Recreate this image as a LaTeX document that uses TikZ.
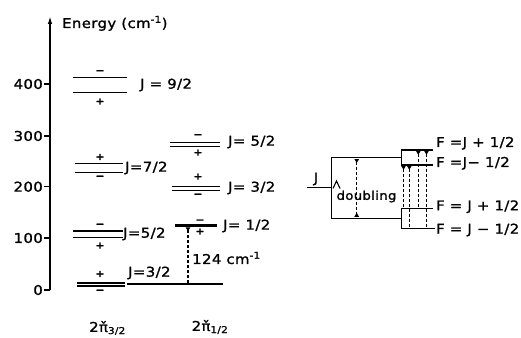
\documentclass[tikz,border=0pt]{standalone}
\usepackage{fontspec}
\setmainfont{DejaVu Sans}[FakeStretch=1.1,LetterSpace=3,FakeBold=1.3]
\usetikzlibrary{arrows.meta}
\begin{document}
\begin{tikzpicture}[x=1pt,y=-1pt,
  lvl/.style={line width=1.5pt},
  thicklvl/.style={line width=1.9pt},
  lbl/.style={font=\fontsize{13.5}{14}\selectfont, inner sep=0pt},
  small/.style={font=\fontsize{12}{12}\selectfont, inner sep=0pt},
  sgn/.style={font=\bfseries\fontsize{9.5}{9.5}\selectfont, inner sep=0pt},
  tdash/.style={line width=1.2pt, dash pattern=on 3pt off 2pt},
  tiptop/.style={{Triangle[reversed,length=4pt,width=4.5pt]}-},
  tipboth/.style={{Triangle[reversed,length=4pt,width=4.5pt]}-{Triangle[reversed,length=4pt,width=4.5pt]}},
]
\useasboundingbox (0,0) rectangle (521,337);
% axis
\coordinate (ax0) at (50,290);
\coordinate (axtop) at (50,16);
\draw[line width=1.5pt,-{Latex[length=8pt,width=4.5pt]}] (ax0) -- (axtop);
\node[lbl,anchor=base west] (energy) at (62,28) {Energy (cm\textsuperscript{-1})};
\foreach \v/\y in {0/290,100/238,200/186.7,300/136,400/84}{
  \draw[line width=1.5pt] (44,\y) -- (50,\y);
  \node[lbl,anchor=east] (t\v) at (43,\y) {\v};
}
% left column 2Pi 3/2
\draw[lvl] (73,77.3) -- (127,77.3);
\draw[lvl] (73,92.3) -- (127,92.3);
\node[sgn] (s1) at (100,72) {−};
\node[sgn] (s2) at (100,101.5) {+};
\node[lbl,anchor=west] (j92) at (140,85) {J = 9/2};

\draw[lvl] (75,163.3) -- (123,163.3);
\draw[lvl] (75,172.7) -- (123,172.7);
\node[sgn] (s3) at (100,157) {+};
\node[sgn] (s4) at (100,177.5) {−};
\node[lbl,anchor=west] (j72) at (125,168) {J=7/2};

\draw[lvl] (73,231) -- (123,231);
\draw[lvl] (73,237.7) -- (123,237.7);
\node[sgn] (s5) at (100,225.5) {−};
\node[sgn] (s6) at (100,245.7) {+};
\node[lbl,anchor=west] (j52a) at (123,234) {J=5/2};

\draw[thicklvl] (77,283) -- (125,283);
\draw[thicklvl] (77,286) -- (125,286);
\node[sgn] (s7) at (100,274) {+};
\node[sgn] (s8) at (100,291.5) {−};
\node[lbl,anchor=west] (j32a) at (128,273) {J=3/2};
\coordinate (g1) at (127,284);
\coordinate (g2) at (223,284);
\draw[line width=1.2pt] (g1) -- (g2);

% right column 2Pi 1/2
\draw[lvl] (170,142.7) -- (220,142.7);
\draw[lvl] (170,146.7) -- (220,146.7);
\node[sgn] (s9) at (198,136) {−};
\node[sgn] (s10) at (198,152.7) {+};
\node[lbl,anchor=west] (j52b) at (228,142) {J= 5/2};

\draw[lvl] (172,186.7) -- (220,186.7);
\draw[lvl] (172,190.7) -- (220,190.7);
\node[sgn] (s11) at (198,176.7) {+};
\node[sgn] (s12) at (198,195.5) {−};
\node[lbl,anchor=west] (j32b) at (228,188) {J= 3/2};

\draw[line width=3.2pt] (175,225.7) -- (217,225.7);
\node[sgn] (s13) at (200,221.3) {−};
\node[sgn] (s14) at (200,231.5) {+};
\node[lbl,anchor=west] (j12) at (223,226) {J= 1/2};

\coordinate (d1) at (188,227.3);
\coordinate (d2) at (188,284);
\draw[tdash,tiptop] (d1) -- (d2);
\node[lbl,anchor=west] (split) at (192,258) {124 cm\textsuperscript{-1}};

\node[lbl] (p32) at (107.5,328) {2π̌\textsubscript{3/2}};
\node[lbl] (p12) at (210,327) {2π̌\textsubscript{1/2}};

% right diagram: Lambda doubling and hyperfine
\node[lbl,anchor=south] (J) at (316,185.5) {J};
\draw[line width=1.5pt] (306.7,187.3) -- (331.7,187.3);
\draw[line width=1.5pt] (401.7,157.5) -- (331.7,157.5) -- (331.7,218.3) -- (401.7,218.3);
\draw[line width=1.1pt] (333,188.5) -- (336.5,181) -- (340,188.5);
\node[small] (dbl) at (366.5,196.5) {doubling};
\draw[tdash,tipboth] (356.7,159) -- (356.7,216.8);

% top group
\draw[line width=1.5pt] (433,150) -- (401.7,150) -- (401.7,165) -- (433,165);
% bottom group
\draw[line width=1.5pt] (433,208.3) -- (401.7,208.3) -- (401.7,228.3) -- (435,228.3);

\draw[tdash,tiptop] (403.5,165.8) -- (403.5,208.3);
\draw[tdash,tiptop] (409.3,165.8) -- (409.3,228.3);
\draw[tdash,tiptop] (418.3,150.8) -- (418.3,208.3);
\draw[tdash,tiptop] (426.5,150.8) -- (426.5,228.3);

\node[lbl,anchor=west] (f1) at (436,143.3) {F =J + 1/2};
\node[lbl,anchor=west] (f2) at (436,163.3) {F =J− 1/2};
\node[lbl,anchor=west] (f3) at (436,206.7) {F = J + 1/2};
\node[lbl,anchor=west] (f4) at (436,230) {F = J − 1/2};
\end{tikzpicture}
\end{document}
